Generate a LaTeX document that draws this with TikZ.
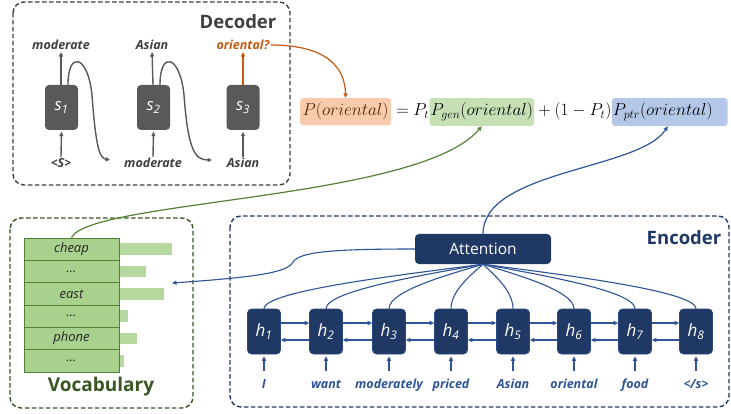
\documentclass[tikz,border=0pt]{standalone}
\usepackage{fontspec}
\setsansfont{Open Sans}
\usetikzlibrary{arrows.meta}
\definecolor{decdark}{HTML}{404040}
\definecolor{decfill}{HTML}{595959}
\definecolor{orline}{HTML}{C55A11}
\definecolor{orfill}{HTML}{F8CBAD}
\definecolor{grfill}{HTML}{C5E0B4}
\definecolor{blfill}{HTML}{B4C7E7}
\definecolor{grline}{HTML}{548235}
\definecolor{grtext}{HTML}{385723}
\definecolor{vcell}{HTML}{A9D18E}
\definecolor{navy}{HTML}{203864}
\definecolor{blline}{HTML}{2F5597}
\newcommand{\mydots}{...}
\begin{document}
\begin{tikzpicture}[x=1pt,y=-1pt,
  tip/.style={-{Triangle[length=4.5pt,width=4pt]}},
  frame/.style={line width=1.4pt, dash pattern=on 4.5pt off 2.5pt, rounded corners=11pt},
  sbox/.style={fill=decfill, rounded corners=4pt, minimum width=33pt, minimum height=45pt, inner sep=0pt, text=white, font=\sffamily\itshape\fontsize{16.5}{18}\selectfont},
  hbox/.style={fill=navy, draw=blline!60!navy, line width=0.6pt, rounded corners=4pt, minimum width=33pt, minimum height=45pt, inner sep=0pt, text=white, font=\sffamily\itshape\fontsize{17}{19}\selectfont},
  dlabel/.style={font=\sffamily\bfseries\itshape\fontsize{12.5}{14}\selectfont, text=decdark, inner sep=1pt},
  wlabel/.style={font=\sffamily\bfseries\itshape\fontsize{12.5}{14}\selectfont, text=blline, inner sep=1pt, text height=9pt, text depth=2.5pt},
  title/.style={font=\sffamily\bfseries\fontsize{18.5}{21}\selectfont},
  darr/.style={tip, draw=decfill, line width=1.4pt},
  barr/.style={tip, draw=blline, line width=1.3pt},
  eqbox/.style={rounded corners=3pt, inner xsep=2.5pt, inner ysep=5pt},
  vrow/.style={draw=grline, line width=0.9pt, fill=vcell, minimum width=95pt, minimum height=22.33pt, inner sep=0pt, font=\sffamily\itshape\fontsize{13}{15}\selectfont, text=black!85}
]
\clip (0,0) rectangle (731,414);
\fill[white] (0,0) rectangle (731,414);

% ---------------- Decoder ----------------
\draw[frame, draw=decdark] (13,2) rectangle (290,185);
\node[title, text=decdark] (dect) at (238,22) {Decoder};
\node[sbox] (s1) at (61.5,107.5) {s\textsubscript{1}};
\node[sbox] (s2) at (153.5,107.5) {s\textsubscript{2}};
\node[sbox] (s3) at (243,107.5) {s\textsubscript{3}};
\node[dlabel] (t1) at (61,45) {moderate};
\node[dlabel] (t2) at (152,45) {Asian};
\node[dlabel, text=orline] (t3) at (243,45) {oriental?};
\node[dlabel] (b1) at (61,163) {<S>};
\node[dlabel] (b2) at (153,163) {moderate};
\node[dlabel] (b3) at (243,163) {Asian};
\coordinate (c1) at (110,160);
\coordinate (c2) at (212,160);
\draw[darr, shorten >=1pt] ([xshift=-0.5pt]s1.north) -- (t1.south);
\draw[darr, shorten >=1pt] ([xshift=-0.5pt]s2.north) -- (t2.south);
\draw[darr, draw=orline, shorten >=1pt] (s3.north) -- (t3.south);
\draw[darr, shorten >=1.5pt] (b1.north) -- (s1.south);
\draw[darr, shorten >=1.5pt] (b2.north) -- (s2.south);
\draw[darr, shorten >=1.5pt] (b3.north) -- (s3.south);
\draw[darr] ([xshift=6.5pt]s1.north) .. controls (68,50) and (88,55) .. (92,95)
  .. controls (96,150) and (100,158) .. (c1);
\draw[darr] ([xshift=6.5pt]s2.north) .. controls (160,50) and (180,55) .. (184,95)
  .. controls (188,150) and (195,160) .. (c2);

% ---------------- Equation ----------------
\begin{scope}[every node/.style={font=\fontsize{17}{19}\selectfont}]
\node[eqbox, fill=orfill, anchor=base west, text=orline!40!black] (pl) at (300,116) {$P(oriental)$};
\node[anchor=base west, inner sep=0pt] (e1) at (pl.base east) {${}=P_t$};
\node[eqbox, fill=grfill, anchor=base west, inner xsep=1pt] (pg) at (e1.base east) {$P_{gen}(oriental)$};
\node[anchor=base west, inner sep=0pt] (e2) at (pg.base east) {${}+(1-P_t)$};
\node[eqbox, fill=blfill, anchor=base west, inner xsep=1pt] (pp) at (e2.base east) {$P_{ptr}(oriental)\kern14pt$};
\end{scope}
\draw[tip, draw=orline, line width=1.2pt] (t3.east) .. controls (330,45) and (345,70) .. (pl.north);

% ---------------- Vocabulary ----------------
\draw[frame, draw=grtext] (10,218) rectangle (193,408);
\foreach \w [count=\i] in {cheap,\mydots,east,\mydots,phone,\mydots}
  \node[vrow] (v\i) at (71.5,{238+(\i-0.5)*22.33}) {\w};
\foreach \len [count=\i] in {172,146,164,128,137,124}
  \fill[vcell!85!white] (119.5,{238+(\i-0.5)*22.33-5.7}) rectangle (\len,{238+(\i-0.5)*22.33+5.7});
\node[title, text=grtext, font=\sffamily\bfseries\fontsize{19}{22}\selectfont] (vt) at (101,387) {Vocabulary};

% ---------------- Encoder ----------------
\draw[frame, draw=navy] (230,216) rectangle (729,407);
\node[title, text=navy] (enct) at (684,238) {Encoder};
\node[fill=navy, rounded corners=4pt, minimum width=136pt, minimum height=30pt, inner sep=0pt, text=white, font=\sffamily\fontsize{15.5}{18}\selectfont] (att) at (483,249) {Attention};
\foreach \x/\w [count=\i] in {264/I,326/want,389/moderately,451/priced,513/Asian,574/oriental,635/food,696/{</s>}} {
  \node[hbox] (h\i) at (\x,331.5) {h\textsubscript{\i}};
  \node[wlabel] (w\i) at (\x,385) {\w};
  \draw[barr] ([yshift=-17pt]h\i.south) -- ([yshift=-2pt]h\i.south);
  \draw[blline, line width=1.1pt] (h\i.north) .. controls (\x,290) and ({483+(\x-483)*0.3},273) .. (att.south);
}
\foreach \i [evaluate=\i as \j using int(\i+1)] in {1,2,3,4,5,6,7} {
  \draw[barr] ([yshift=8.5pt]h\i.east) -- ([yshift=8.5pt]h\j.west);
  \draw[barr] ([yshift=-8.5pt]h\j.west) -- ([yshift=-8.5pt]h\i.east);
}
\coordinate (vtgt) at (172,283);
\draw[barr, line width=1.1pt] (att.west) .. controls (330,249) and (300,252) .. (293,262)
  .. controls (288,272) and (260,277) .. (vtgt);
\draw[tip, draw=grline, line width=1.2pt] (v1.north) .. controls (90,200) and (420,200) .. ([xshift=0pt]pg.south);
\draw[tip, draw=blline, line width=1.2pt] (att.north) .. controls (483,170) and (640,170) .. ([xshift=-2pt]pp.south);
\end{tikzpicture}
\end{document}
